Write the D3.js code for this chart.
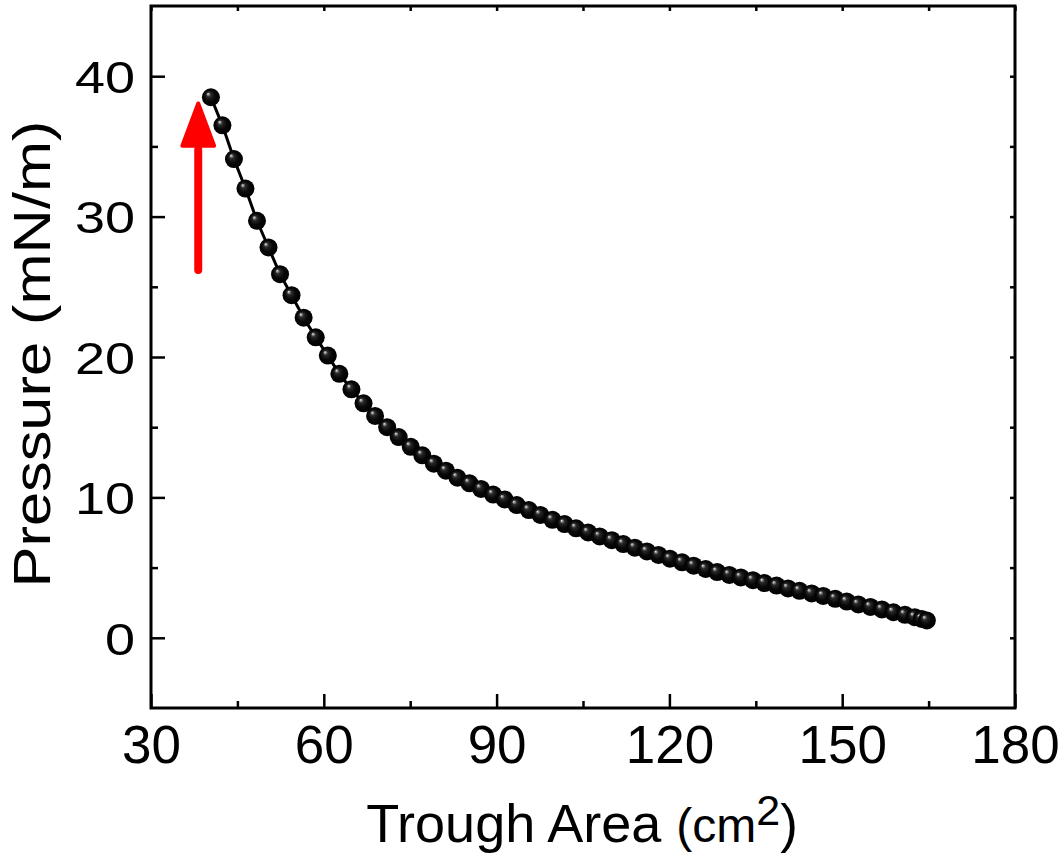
<!DOCTYPE html>
<html>
<head>
<meta charset="utf-8">
<script src="https://cdn.jsdelivr.net/npm/d3@7"></script>
<style>
  html, body { margin: 0; padding: 0; background: #fff; }
  svg { display: block; font-family: "Liberation Sans", Arial, sans-serif; }
</style>
</head>
<body>
<svg id="chart" width="1064" height="855"></svg>
<script>
// ---- data ----
const area = [40.4, 42.4, 44.4, 46.4, 48.4, 50.4, 52.4, 54.4, 56.5, 58.6, 60.7, 62.7, 64.8, 66.9, 68.9, 71.0,
  73.0, 75.1, 77.1, 79.1, 81.2, 83.2, 85.3, 87.3, 89.4, 91.4, 93.5, 95.6, 97.6, 99.7, 101.8, 103.8,
  105.9, 107.9, 110.0, 112.0, 114.0, 116.1, 118.1, 120.1, 122.2, 124.2, 126.3, 128.3, 130.4, 132.4,
  134.5, 136.5, 138.6, 140.6, 142.6, 144.7, 146.7, 148.8, 150.8, 152.8, 154.9, 156.9, 158.9, 160.9,
  162.6, 163.8, 164.7];
const pressure = [38.5, 36.5, 34.1, 32.0, 29.7, 27.8, 25.9, 24.4, 22.8, 21.4, 20.1, 18.8, 17.7, 16.7, 15.8, 15.0,
  14.3, 13.6, 13.0, 12.4, 11.9, 11.4, 11.0, 10.6, 10.2, 9.85, 9.45, 9.1, 8.75, 8.4, 8.1, 7.8,
  7.5, 7.22, 6.95, 6.68, 6.42, 6.15, 5.9, 5.63, 5.38, 5.14, 4.9, 4.68, 4.48, 4.3,
  4.1, 3.9, 3.72, 3.52, 3.35, 3.16, 2.98, 2.78, 2.58, 2.38, 2.2, 2.02, 1.82, 1.64,
  1.47, 1.34, 1.24];
const xTicks = [30, 60, 90, 120, 150, 180];
const xMinorTicks = [45, 75, 105, 135, 165];
const yTicks = [0, 10, 20, 30, 40];
const yMinorTicks = [5, 15, 25, 35];
const xDomain = [30, 180];
const yDomain = [-5, 45];
// annotation arrow (data coords): x, base, head-base, tip
const arrowX = 38.2;
const arrowY = [26.2, 34.9, 38.2];
const arrowHalfWidth = 3.1;

// ---- layout ----
const L = 151, R = 1015, T = 6, B = 708;
const svg = d3.select("#chart");
const x = d3.scaleLinear().domain(xDomain).range([L, R]);
const y = d3.scaleLinear().domain(yDomain).range([B, T]);

const defs = svg.append("defs");
const grad = defs.append("radialGradient").attr("id", "ball")
  .attr("cx", "50%").attr("cy", "50%").attr("r", "50%").attr("fx", "33%").attr("fy", "30%");
[[0, "#f2f2f2"], [0.1, "#9a9a9a"], [0.26, "#2a2a2a"], [0.6, "#080808"], [1, "#000"]].forEach(s =>
  grad.append("stop").attr("offset", s[0]).attr("stop-color", s[1]));

// frame
svg.append("rect").attr("x", L).attr("y", T).attr("width", R - L).attr("height", B - T)
  .attr("fill", "none").attr("stroke", "#000").attr("stroke-width", 3);

function styleAxis(g) {
  g.select(".domain").remove();
  g.selectAll(".tick line").attr("stroke", "#000").attr("stroke-width", 2.5);
}

// bottom axis
svg.append("g").attr("transform", `translate(0,${B})`)
  .call(d3.axisBottom(x).tickValues(xTicks).tickSize(-14).tickPadding(0).tickFormat(d3.format("d")))
  .call(styleAxis)
  .call(g => g.selectAll("text").attr("y", 55).attr("dy", 0)
    .attr("font-size", 53).attr("fill", "#000").attr("font-family", "Liberation Sans, Arial, sans-serif"));
svg.append("g").attr("transform", `translate(0,${B})`)
  .call(d3.axisBottom(x).tickValues(xMinorTicks).tickSize(-7).tickFormat(""))
  .call(styleAxis);
// top axis
svg.append("g").attr("transform", `translate(0,${T})`)
  .call(d3.axisTop(x).tickValues(xTicks.concat(xMinorTicks)).tickSize(-5).tickFormat(""))
  .call(styleAxis);
// left axis
svg.append("g").attr("transform", `translate(${L},0)`)
  .call(d3.axisLeft(y).tickValues(yTicks).tickSize(-14).tickFormat(d3.format("d")))
  .call(styleAxis)
  .call(g => g.selectAll("text").attr("x", 0).attr("dy", "0.36em")
    .attr("transform", "translate(-16,0) scale(1.2,1)")
    .attr("font-size", 45).attr("fill", "#000").attr("font-family", "Liberation Sans, Arial, sans-serif"));
svg.append("g").attr("transform", `translate(${L},0)`)
  .call(d3.axisLeft(y).tickValues(yMinorTicks).tickSize(-7).tickFormat(""))
  .call(styleAxis);
// right axis
svg.append("g").attr("transform", `translate(${R},0)`)
  .call(d3.axisRight(y).tickValues(yTicks.concat(yMinorTicks)).tickSize(-5).tickFormat(""))
  .call(styleAxis);

// axis titles
const xt = svg.append("text").attr("x", 582).attr("y", 842).attr("text-anchor", "middle").attr("fill", "#000");
xt.append("tspan").attr("font-size", 54).text("Trough Area ");
xt.append("tspan").attr("font-size", 48).text("(cm");
xt.append("tspan").attr("font-size", 43).attr("dy", -17).text("2");
xt.append("tspan").attr("font-size", 53).attr("dy", 17).text(")");

svg.append("text")
  .attr("transform", `translate(50,354) rotate(-90) scale(1.18,1)`)
  .attr("text-anchor", "middle").attr("font-size", 52).attr("fill", "#000")
  .text("Pressure (mN/m)");

// data line + markers
const pts = area.map((a, i) => [a, pressure[i]]);
svg.append("path").datum(pts)
  .attr("fill", "none").attr("stroke", "#000").attr("stroke-width", 3)
  .attr("d", d3.line().x(d => x(d[0])).y(d => y(d[1])));
svg.append("g").selectAll("circle").data(pts).join("circle")
  .attr("cx", d => x(d[0])).attr("cy", d => y(d[1])).attr("r", 9)
  .attr("fill", "url(#ball)");

// red arrow
const ax = x(arrowX);
svg.append("line").attr("x1", ax).attr("x2", ax)
  .attr("y1", y(arrowY[0])).attr("y2", y(arrowY[1]) + 2)
  .attr("stroke", "#ff0000").attr("stroke-width", 8).attr("stroke-linecap", "round");
svg.append("path")
  .attr("d", `M${x(arrowX - arrowHalfWidth) + 2},${y(arrowY[1]) - 2} L${ax},${y(arrowY[2]) + 2} L${x(arrowX + arrowHalfWidth) - 2},${y(arrowY[1]) - 2} Z`)
  .attr("fill", "#ff0000").attr("stroke", "#ff0000").attr("stroke-width", 4).attr("stroke-linejoin", "round");
</script>
</body>
</html>
